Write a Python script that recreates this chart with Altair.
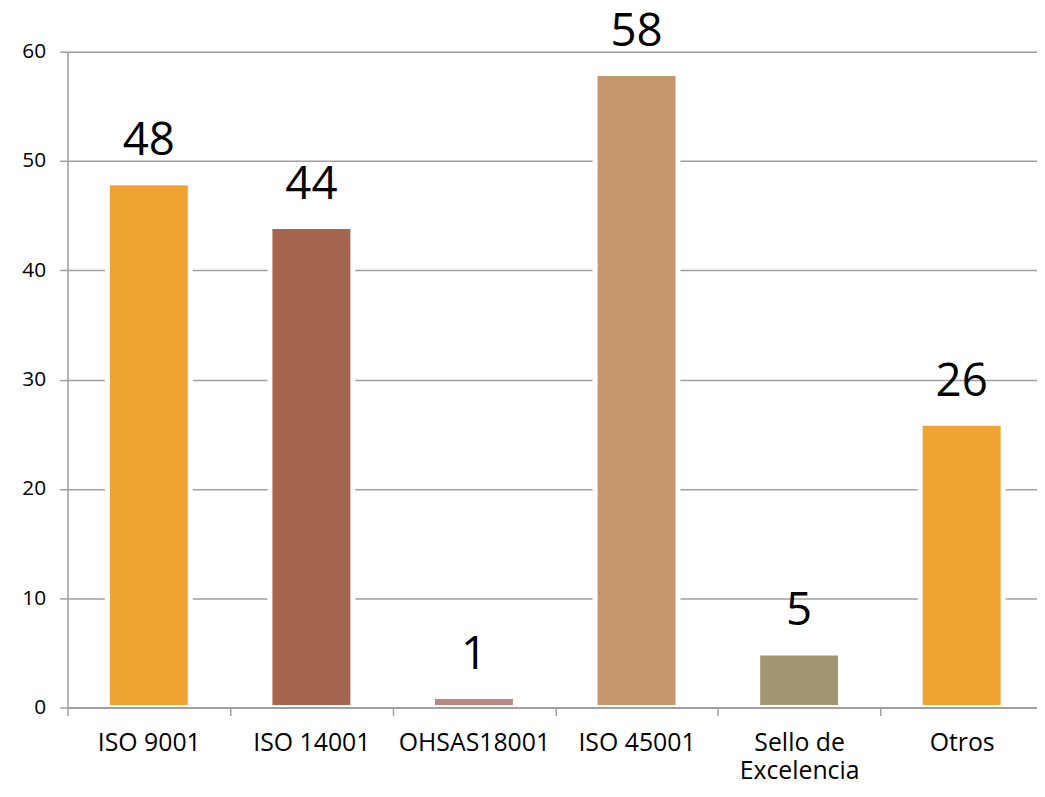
import altair as alt
import pandas as pd

categories = ["ISO 9001", "ISO 14001", "OHSAS18001", "ISO 45001", "Sello de Excelencia", "Otros"]
values = [48, 44, 1, 58, 5, 26]
colors = ["#F0A330", "#A5654F", "#BA897E", "#C4986C", "#A39673", "#F0A330"]

df = pd.DataFrame({"cat": categories, "val": values, "color": colors})

GRAY = "#A0A0A0"
FONT = "Open Sans"

x = alt.X(
    "cat:N",
    sort=categories,
    scale=alt.Scale(paddingInner=0, paddingOuter=0, range=[0, 983]),
    axis=alt.Axis(
        title=None,
        labelAngle=0,
        tickBand="extent",
        tickSize=8,
        tickWidth=1.5,
        tickColor=GRAY,
        domainColor=GRAY,
        domainWidth=2,
        labelPadding=15,
        labelFontSize=25,
        labelFont=FONT,
        labelColor="#000000",
        labelLineHeight=29,
        labelOverlap=False,
        labelExpr="datum.label == 'Sello de Excelencia' ? ['Sello de', 'Excelencia'] : datum.label",
        zindex=1,
    ),
)

y = alt.Y(
    "val:Q",
    scale=alt.Scale(domain=[0, 60], nice=False),
    axis=alt.Axis(
        title=None,
        values=[0, 10, 20, 30, 40, 50, 60],
        grid=True,
        gridColor=GRAY,
        gridWidth=1.5,
        tickSize=8,
        tickColor=GRAY,
        tickWidth=1.5,
        domainColor=GRAY,
        domainWidth=1.5,
        labelPadding=14,
        labelFontSize=21,
        labelFont=FONT,
        labelColor="#000000",
    ),
)

bars = alt.Chart(df).mark_bar(
    width=alt.RelativeBandSize(0.51), stroke="white", strokeWidth=5
).encode(
    x=x,
    y=y,
    color=alt.Color("color:N", scale=None),
)

labels = alt.Chart(df).mark_text(
    dy=-28, baseline="alphabetic", fontSize=46, font=FONT, color="#000000"
).encode(
    x=alt.X("cat:N", sort=categories),
    y="val:Q",
    text="val:Q",
)

chart = alt.layer(bars, labels).properties(
    width=977,
    height=661,
    autosize=alt.AutoSizeParams(type="none"),
    padding={"left": 60, "top": 41, "right": 0, "bottom": 72},
).configure_view(stroke=None).configure(background="white")

chart.save("out.html", embed_options={"renderer": "svg", "actions": False})
